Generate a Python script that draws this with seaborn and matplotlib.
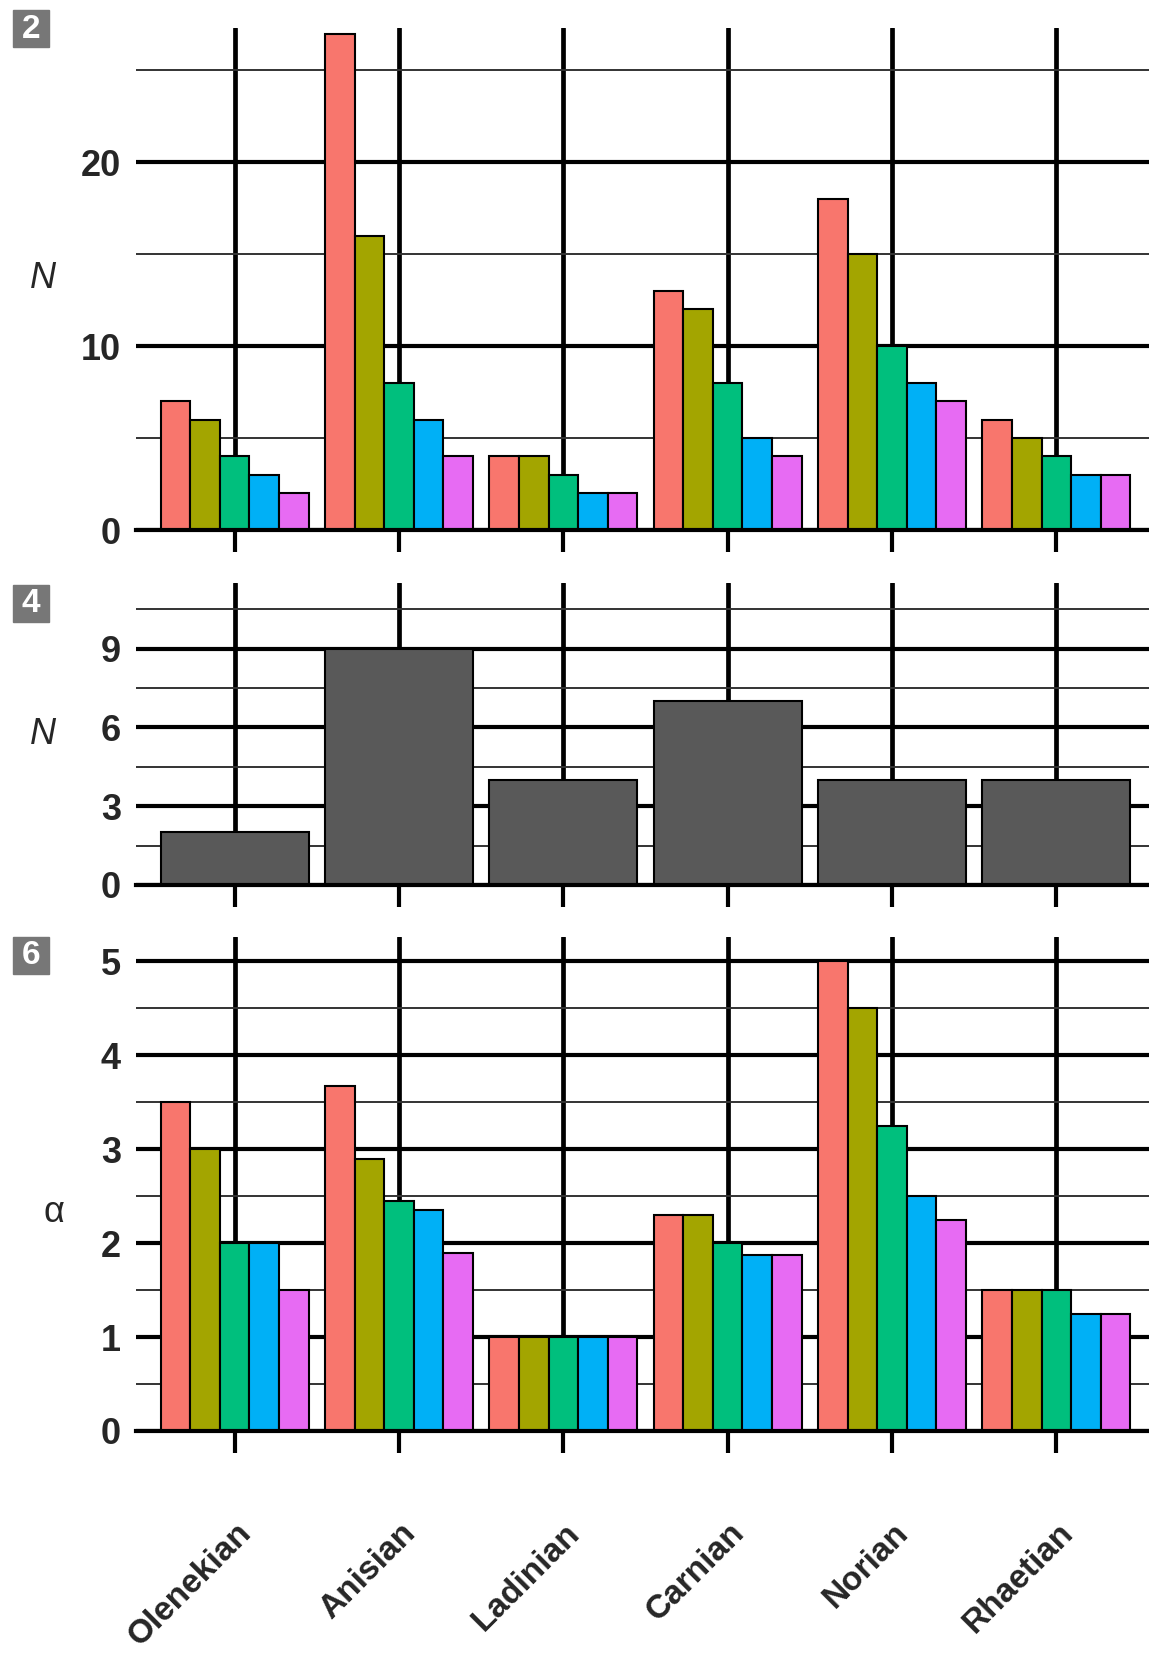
import numpy as np
import pandas as pd
import matplotlib
matplotlib.use("Agg")
import matplotlib.pyplot as plt
import matplotlib.transforms as mtransforms
from matplotlib.patches import Rectangle
import seaborn as sns

sns.set_style("white")
plt.rcParams['font.family'] = ['Liberation Sans', 'DejaVu Sans']

# Data
stages = ['Olenekian', 'Anisian', 'Ladinian', 'Carnian', 'Norian', 'Rhaetian']
groups = ['g1', 'g2', 'g3', 'g4', 'g5']
colors = ['#F8766D', '#A3A500', '#00BF7D', '#00B0F6', '#E76BF3']

# panel 2: N per stage, one list per group
n_g1 = [7, 27, 4, 13, 18, 6]
n_g2 = [6, 16, 4, 12, 15, 5]
n_g3 = [4, 8, 3, 8, 10, 4]
n_g4 = [3, 6, 2, 5, 8, 3]
n_g5 = [2, 4, 2, 4, 7, 3]

# panel 4: single count per stage
n_total = [2, 9, 4, 7, 4, 4]

# panel 6: alpha per stage, one list per group
a_g1 = [3.5, 3.67, 1.0, 2.3, 5.0, 1.5]
a_g2 = [3.0, 2.9, 1.0, 2.3, 4.5, 1.5]
a_g3 = [2.0, 2.45, 1.0, 2.0, 3.25, 1.5]
a_g4 = [2.0, 2.35, 1.0, 1.87, 2.5, 1.25]
a_g5 = [1.5, 1.9, 1.0, 1.87, 2.25, 1.25]


def long_form(series):
    rows = []
    for g, vals in zip(groups, series):
        for s, v in zip(stages, vals):
            rows.append({'stage': s, 'group': g, 'value': v})
    return pd.DataFrame(rows)


df_n = long_form([n_g1, n_g2, n_g3, n_g4, n_g5])
df_a = long_form([a_g1, a_g2, a_g3, a_g4, a_g5])

W, H = 1149, 1653
fig = plt.figure(figsize=(W / 100, H / 100), dpi=100)


def px_axes(top, bottom, left=136, right=1155):
    return fig.add_axes([left / W, 1 - bottom / H, (right - left) / W, (bottom - top) / H])


ax1 = px_axes(28, 530)
ax2 = px_axes(583, 885)
ax3 = px_axes(937, 1431)

sns.barplot(data=df_n, x='stage', y='value', hue='group', order=stages, hue_order=groups,
            palette=colors, saturation=1, width=0.9, errorbar=None, edgecolor='black',
            linewidth=1.5, legend=False, ax=ax1)
sns.barplot(x=stages, y=n_total, color='#595959', saturation=1, width=0.9, errorbar=None,
            edgecolor='black', linewidth=1.5, ax=ax2)
sns.barplot(data=df_a, x='stage', y='value', hue='group', order=stages, hue_order=groups,
            palette=colors, saturation=1, width=0.9, errorbar=None, edgecolor='black',
            linewidth=1.5, legend=False, ax=ax3)

settings = [
    (ax1, 27.3, [0, 10, 20], [5, 15, 25], 'N', 'italic', -0.0913, 0.5, '2', 29),
    (ax2, 11.5, [0, 3, 6, 9], [1.5, 4.5, 7.5, 10.5], 'N', 'italic', -0.0913, 0.5, '4', 604),
    (ax3, 5.26, [0, 1, 2, 3, 4, 5], [0.5, 1.5, 2.5, 3.5, 4.5], 'α', 'normal', -0.081, 0.443, '6', 956),
]

for ax, ytop, majors, minors, ylab, style, xpos, ypos, num, box_y in settings:
    ax.set_xlim(-0.6, 5.6)
    ax.set_ylim(0, ytop)
    ax.set_yticks(majors)
    ax.set_yticks(minors, minor=True)
    ax.set_yticklabels([str(m) for m in majors], fontsize=26, fontweight='bold')
    ax.tick_params(axis='y', which='both', length=0, pad=11)
    ax.tick_params(axis='x', which='major', bottom=True, length=16, width=3.0,
                   color='black', direction='out')
    ax.set_axisbelow(True)
    ax.grid(axis='y', which='major', color='black', linewidth=3.0)
    ax.grid(axis='y', which='minor', color='#333333', linewidth=1.4)
    ax.grid(axis='x', which='major', color='black', linewidth=3.4)
    for side in ['top', 'left', 'right']:
        ax.spines[side].set_visible(False)
    ax.spines['bottom'].set_linewidth(3.0)
    ax.spines['bottom'].set_color('black')
    ax.set_xlabel('')
    ax.set_ylabel(ylab, fontsize=26, fontstyle=style, rotation=0, va='center', ha='center')
    ax.yaxis.set_label_coords(xpos, ypos)
    # panel number box
    fig.add_artist(Rectangle((13 / W, 1 - (box_y + 18) / H), 36 / W, 37 / H,
                             transform=fig.transFigure, color='#777777'))
    fig.text(31 / W, 1 - box_y / H, num, color='white', fontsize=24, fontweight='bold',
             ha='center', va='center')

ax1.tick_params(axis='x', labelbottom=False)
ax2.tick_params(axis='x', labelbottom=False)
ax3.set_xticks(range(len(stages)))
ax3.set_xticklabels(stages, rotation=45, ha='right', va='center', rotation_mode='anchor',
                    fontsize=24, fontweight='bold')
ax3.tick_params(axis='x', pad=54)
shift = mtransforms.ScaledTranslation(12 / 100, 0, fig.dpi_scale_trans)
for lbl in ax3.get_xticklabels():
    lbl.set_transform(lbl.get_transform() + shift)

fig.savefig('out.png', dpi=100)
